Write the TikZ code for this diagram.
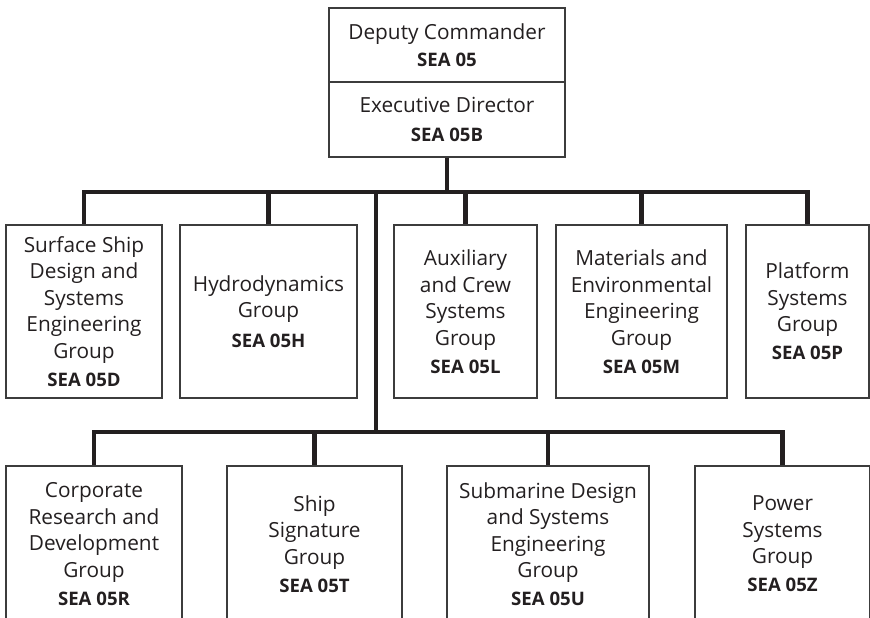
\documentclass[tikz,border=0pt]{standalone}
\usepackage{fontspec}
\setmainfont{Open Sans}
\definecolor{ink}{HTML}{231F20}
\definecolor{edge}{HTML}{3C3C3C}
\begin{document}
\begin{tikzpicture}[x=1pt,y=-1pt,
  box/.style={draw=edge, line width=1.2pt, rectangle, inner sep=0pt, align=center, text=ink,
    font=\fontsize{20.8}{26.5}\selectfont},
  topbox/.style={box, font=\fontsize{20.8}{27}\selectfont},
  conn/.style={draw=ink, line width=4.2pt, line join=miter, line cap=butt}]
\useasboundingbox (0,0) rectangle (870,618);
\newcommand{\code}[1]{{\bfseries\fontsize{18.6}{26.5}\selectfont #1}}
% top box
\node[topbox, minimum width=236, minimum height=74] (dep) at (447,45) {Deputy Commander\\[0.5pt]\code{SEA 05}};
\node[topbox, minimum width=236, minimum height=75] (exe) at (447,119.5) {Executive Director\\[2pt]\code{SEA 05B}};
% first row
\node[box, minimum width=156, minimum height=173] (D) at (84,311.5) {Surface Ship\\Design and\\Systems\\Engineering\\Group\\[1.5pt]\code{SEA 05D}};
\node[box, minimum width=177, minimum height=173] (H) at (268.5,311.5) {Hydrodynamics\\Group\\[3pt]\code{SEA 05H}};
\node[box, minimum width=143, minimum height=173] (L) at (465.5,311.5) {Auxiliary\\and Crew\\Systems\\Group\\[1.5pt]\code{SEA 05L}};
\node[box, minimum width=171, minimum height=173] (M) at (641.5,311.5) {Materials and\\Environmental\\Engineering\\Group\\[1.5pt]\code{SEA 05M}};
\node[box, minimum width=123, minimum height=173] (P) at (807.5,311.5) {Platform\\Systems\\Group\\[1.5pt]\code{SEA 05P}};
% second row
\node[box, minimum width=176, minimum height=156] (R) at (94,544) {Corporate\\Research and\\Development\\Group\\[1.5pt]\code{SEA 05R}};
\node[box, minimum width=175, minimum height=156] (T) at (314.5,544) {Ship\\Signature\\Group\\[1.5pt]\code{SEA 05T}};
\node[box, minimum width=202, minimum height=156] (U) at (548,544) {Submarine Design\\and Systems\\Engineering\\Group\\[1.5pt]\code{SEA 05U}};
\node[box, minimum width=175, minimum height=156] (Z) at (782.5,544) {Power\\Systems\\Group\\[1.5pt]\code{SEA 05Z}};
% connectors
\coordinate (b1) at (376,192);
\coordinate (b2) at (376,432);
\draw[conn] (exe.south) -- (exe.south |- b1);
\draw[conn] (D.north) -- (D.north |- b1) -- (P.north |- b1) -- (P.north);
\draw[conn] (H.north) -- (H.north |- b1);
\draw[conn] (L.north) -- (L.north |- b1);
\draw[conn] (M.north) -- (M.north |- b1);
\draw[conn] (b1) -- (b2);
\draw[conn] (R.north) -- (R.north |- b2) -- (Z.north |- b2) -- (Z.north);
\draw[conn] (T.north) -- (T.north |- b2);
\draw[conn] (U.north) -- (U.north |- b2);
\end{tikzpicture}
\end{document}
